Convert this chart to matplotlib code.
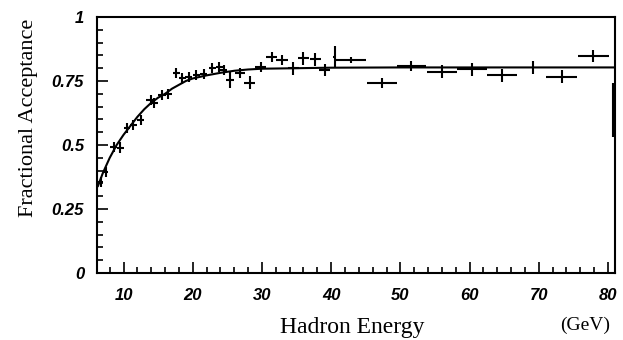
import matplotlib
matplotlib.use("Agg")
import matplotlib.pyplot as plt
from matplotlib.ticker import MultipleLocator, FixedLocator, FixedFormatter

energy = [6.7, 7.4, 8.6, 9.5, 10.5, 11.4, 12.5, 13.9, 14.4, 15.6, 16.4,
          17.6, 18.5, 19.4, 20.5, 21.6, 22.8, 23.8, 24.5, 25.4, 26.8, 28.2,
          29.8, 31.4, 32.9, 34.5, 36.0, 37.7, 39.1, 40.5, 42.9, 47.3, 51.6,
          56.0, 60.3, 64.7, 69.1, 73.3, 77.9, 80.7]
accept = [0.357, 0.396, 0.493, 0.49, 0.565, 0.578, 0.598, 0.676, 0.663,
          0.695, 0.70, 0.78, 0.76, 0.767, 0.773, 0.776, 0.80, 0.806, 0.793,
          0.754, 0.782, 0.743, 0.806, 0.845, 0.832, 0.80, 0.839, 0.835,
          0.793, 0.845, 0.832, 0.743, 0.809, 0.786, 0.796, 0.773, 0.803,
          0.767, 0.848, 0.637]
energy_err = [0.4, 0.4, 0.5, 0.5, 0.5, 0.5, 0.5, 0.6, 0.6, 0.6, 0.6,
              0.5, 0.5, 0.5, 0.5, 0.5, 0.5, 0.5, 0.5, 0.6, 0.7, 0.8,
              0.8, 0.8, 0.8, 0.8, 0.8, 0.8, 0.8, 0.2, 2.2, 2.15, 2.15,
              2.15, 2.15, 2.2, 0.1, 2.2, 2.2, 0.15]
accept_err = [0.02, 0.02, 0.02, 0.02, 0.02, 0.02, 0.02, 0.02, 0.02, 0.02,
              0.02, 0.02, 0.02, 0.02, 0.02, 0.02, 0.02, 0.02, 0.02, 0.03,
              0.02, 0.025, 0.02, 0.02, 0.02, 0.025, 0.025, 0.025, 0.025,
              0.04, 0.01, 0.02, 0.02, 0.025, 0.025, 0.025, 0.025, 0.025,
              0.025, 0.105]

# fitted curve
fit_energy = [6.3, 7, 8, 9, 10, 11, 12, 13, 14, 15, 16, 17, 18, 19, 20,
              22, 24, 26, 28, 30, 35, 40, 50, 81]
fit_accept = [0.34, 0.39, 0.45, 0.50, 0.54, 0.575, 0.61, 0.64, 0.665, 0.685,
              0.70, 0.72, 0.735, 0.75, 0.76, 0.772, 0.782, 0.79, 0.795,
              0.798, 0.80, 0.802, 0.803, 0.803]

xticks = [10, 20, 30, 40, 50, 60, 70, 80]
yticks = [0, 0.25, 0.5, 0.75, 1]
ytick_labels = ["0", "0.25", "0.5", "0.75", "1"]

fig = plt.figure(figsize=(6.23, 3.40), dpi=100)
ax = fig.add_axes([0.155, 0.197, 0.832, 0.753])

ax.plot(fit_energy, fit_accept, color="black", lw=1.5)
ax.errorbar(energy, accept, xerr=energy_err, yerr=accept_err, fmt="none",
            ecolor="black", elinewidth=1.5, capsize=0)

ax.set_xlim(6.1, 81)
ax.set_ylim(0, 1)

ax.xaxis.set_major_locator(FixedLocator(xticks))
ax.xaxis.set_minor_locator(MultipleLocator(2))
ax.yaxis.set_major_locator(FixedLocator(yticks))
ax.yaxis.set_major_formatter(FixedFormatter(ytick_labels))
ax.yaxis.set_minor_locator(MultipleLocator(0.05))
ax.tick_params(which="both", direction="in", width=1.2, top=False, right=False)
ax.tick_params(which="major", length=8)
ax.tick_params(which="minor", length=4)
ax.tick_params(axis="x", pad=11)
ax.tick_params(axis="y", pad=9)
# scan uses an oblique, slightly heavy Helvetica for the numbers
for lab in ax.get_xticklabels() + ax.get_yticklabels():
    lab.set_fontfamily("Liberation Sans")
    lab.set_fontstyle("italic")
    lab.set_fontweight("bold")
    lab.set_fontsize(12)

for sp in ax.spines.values():
    sp.set_linewidth(1.5)

serif = "Liberation Serif"
fig.text(0.045, 0.652, "Fractional Acceptance", rotation=90, ha="center",
         va="center", family=serif, fontsize=16)
fig.text(0.565, 0.02, "Hadron Energy", ha="center", va="baseline",
         family=serif, fontsize=17)
fig.text(0.94, 0.03, "(GeV)", ha="center", va="baseline", family=serif,
         fontsize=14)

fig.savefig("out.png", dpi=100)
